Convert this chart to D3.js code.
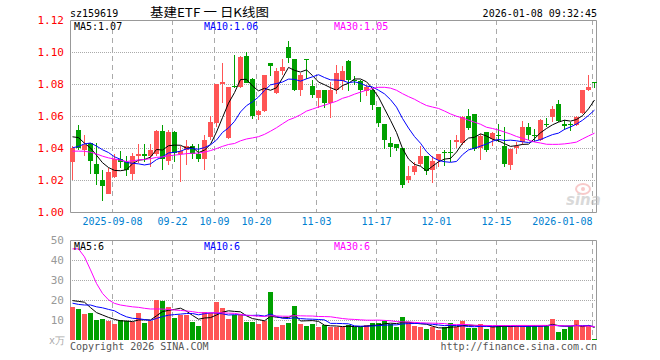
<!DOCTYPE html>
<html>
<head>
<meta charset="utf-8">
<script src="https://cdn.jsdelivr.net/npm/d3@7"></script>
<style>
body { margin: 0; background: #fff; }
text { font-family: "DejaVu Sans Mono", monospace; font-size: 10px; }
</style>
</head>
<body>
<svg width="660" height="360"></svg>
<script>
// trading days shown on the chart
var dates = ["2025-08-28","2025-08-29","2025-09-01","2025-09-02","2025-09-03","2025-09-04","2025-09-05","2025-09-08","2025-09-09","2025-09-10",
  "2025-09-11","2025-09-12","2025-09-15","2025-09-16","2025-09-17","2025-09-18","2025-09-19","2025-09-22","2025-09-23","2025-09-24",
  "2025-09-25","2025-09-26","2025-09-29","2025-09-30","2025-10-09","2025-10-10","2025-10-13","2025-10-14","2025-10-15","2025-10-16",
  "2025-10-17","2025-10-20","2025-10-21","2025-10-22","2025-10-23","2025-10-24","2025-10-27","2025-10-28","2025-10-29","2025-10-30",
  "2025-10-31","2025-11-03","2025-11-04","2025-11-05","2025-11-06","2025-11-07","2025-11-10","2025-11-11","2025-11-12","2025-11-13",
  "2025-11-14","2025-11-17","2025-11-18","2025-11-19","2025-11-20","2025-11-21","2025-11-24","2025-11-25","2025-11-26","2025-11-27",
  "2025-11-28","2025-12-01","2025-12-02","2025-12-03","2025-12-04","2025-12-05","2025-12-08","2025-12-09","2025-12-10","2025-12-11",
  "2025-12-12","2025-12-15","2025-12-16","2025-12-17","2025-12-18","2025-12-19","2025-12-22","2025-12-23","2025-12-24","2025-12-25",
  "2025-12-26","2025-12-29","2025-12-30","2025-12-31","2026-01-05","2026-01-06","2026-01-07","2026-01-08"];

var open = [1.031,1.0515,1.039,1.043,1.030,1.020,1.0115,1.022,1.033,1.031,
  1.0235,1.035,1.0365,1.035,1.036,1.0505,1.032,1.050,1.036,1.0385,
  1.0415,1.036,1.033,1.047,1.0555,1.080,1.046,1.0785,1.078,1.0977,
  1.0831,1.0608,1.0629,1.0933,1.0744,1.0879,1.1029,1.0958,1.0765,1.0956,
  1.0785,1.0712,1.076,1.0681,1.0765,1.0817,1.0942,1.0827,1.0817,1.0754,
  1.0765,1.0656,1.0552,1.0431,1.0427,1.040,1.0198,1.0248,1.0302,1.0348,
  1.0265,1.0323,1.0373,1.0375,1.0435,1.0431,1.0602,1.0615,1.040,1.0498,
  1.0456,1.0479,1.0415,1.0296,1.040,1.0435,1.0531,1.0479,1.0452,1.0548,
  1.0594,1.0677,1.0552,1.0552,1.0546,1.0619,1.0765,1.0813];

var high = [1.041,1.0546,1.048,1.043,1.043,1.026,1.0275,1.0365,1.038,1.035,
  1.037,1.0425,1.0425,1.0425,1.0515,1.0545,1.0515,1.0505,1.041,1.045,
  1.0425,1.0425,1.048,1.060,1.080,1.093,1.078,1.0983,1.0977,1.0998,
  1.0835,1.064,1.0858,1.0933,1.090,1.0958,1.1067,1.0958,1.087,1.0958,
  1.0827,1.0765,1.0765,1.0815,1.092,1.091,1.0952,1.0848,1.0827,1.0796,
  1.0775,1.0656,1.0552,1.047,1.0427,1.040,1.0285,1.0315,1.0415,1.0348,
  1.035,1.0365,1.0385,1.045,1.048,1.060,1.0644,1.0615,1.049,1.050,
  1.050,1.055,1.053,1.0394,1.044,1.057,1.0555,1.052,1.058,1.059,
  1.0665,1.070,1.0575,1.056,1.060,1.0765,1.0855,1.0813];

var low = [1.0198,1.039,1.035,1.024,1.017,1.007,1.011,1.021,1.0275,1.0225,
  1.020,1.0305,1.031,1.028,1.035,1.026,1.0295,1.031,1.019,1.0295,
  1.033,1.031,1.026,1.045,1.053,1.068,1.0455,1.0775,1.0775,1.0806,
  1.058,1.0575,1.0625,1.0848,1.074,1.0858,1.0931,1.0754,1.0723,1.0831,
  1.0713,1.065,1.065,1.059,1.0735,1.0765,1.0754,1.0796,1.069,1.0723,
  1.064,1.0531,1.0394,1.0344,1.038,1.015,1.018,1.023,1.029,1.023,
  1.018,1.028,1.029,1.0315,1.040,1.042,1.051,1.038,1.0325,1.0375,
  1.0415,1.044,1.028,1.0265,1.0365,1.042,1.045,1.044,1.0445,1.053,
  1.0565,1.056,1.0515,1.0505,1.0535,1.0615,1.0755,1.0775];

var close = [1.040,1.040,1.042,1.032,1.0235,1.0165,1.025,1.033,1.031,1.0265,
  1.035,1.0365,1.035,1.0385,1.0505,1.033,1.050,1.037,1.038,1.0415,
  1.036,1.033,1.045,1.056,1.080,1.081,1.078,1.078,1.097,1.0806,
  1.0602,1.0629,1.0858,1.091,1.0883,1.0906,1.0962,1.0765,1.0858,1.095,
  1.0729,1.076,1.0681,1.0765,1.0869,1.0879,1.0827,1.0817,1.0765,1.0781,
  1.0671,1.0556,1.0452,1.0406,1.040,1.0171,1.0227,1.0285,1.0348,1.0254,
  1.0317,1.0365,1.0369,1.037,1.0452,1.0594,1.0525,1.0394,1.0477,1.0385,
  1.0494,1.0475,1.0302,1.0394,1.041,1.0531,1.0483,1.0475,1.0577,1.0544,
  1.0646,1.0567,1.0535,1.0548,1.0594,1.0765,1.0781,1.0812];

// volume, x万
var volume = [16.5,15.5,13,13.5,10,10.5,9.5,8,10,9.5,
  9,13.5,8.5,9.5,20,19.5,16.5,11,12.5,12.5,
  9,7,14,13.5,19,16,10.5,12.5,12.5,9,
  9,8,9.5,24,6.5,7.5,8.5,17,8,7,
  8,6.5,7.5,6.5,6.5,6.5,7.5,6.5,6.5,7.5,
  8.5,8.5,9.5,8,6.5,11.5,9,7,6.5,5.5,
  6.5,5,6.5,8.5,6.5,9.5,6,6,8,5.5,
  7,7,7,7,7,7,7,7,7,7.5,
  10.5,4,5.5,7,10,7,7,0.5];

// sessions before the first visible day (off chart), estimated from where the MA lines start
var priorClose = [1.040,1.044,1.050,1.056,1.058,1.057,1.055,1.053,1.0515,
  1.020,1.022,1.024,1.025,1.026,1.025,1.027,1.026,1.025,1.027,1.0285,
  1.031,1.026,1.027,1.0425,1.0395,1.0425,1.0595,1.047,1.046];
var priorVolume = [16,133,208,214,160,105,62,34,
  24,22,21,23,20,19,22,21,20,19,20,20,
  21.5,16,13.5,19,15.5,17.5,15,27,22.5];

var tickDates = ["2025-09-08","2025-09-22","2025-10-09","2025-10-20","2025-11-03","2025-11-17","2025-12-01","2025-12-15","2026-01-08"];
var tickLabels = ["2025-09-08","09-22","10-09","10-20","11-03","11-17","12-01","12-15","2026-01-08"];
var priceTicks = [1.00, 1.02, 1.04, 1.06, 1.08, 1.10, 1.12];
var volTicks = [10, 20, 30, 40, 50];
var maDays = [5, 10, 30];
var maColors = ["#000", "#0000ff", "#ff00ff"];

var red = "#ff5555", green = "#00a000", gridColor = "#aaa", frameColor = "#999";

function movingAvg(prior, values, n) {
  var all = prior.concat(values);
  return values.map(function (v, i) {
    var end = prior.length + i + 1;
    return d3.mean(all.slice(end - n, end));
  });
}

var svg = d3.select("svg");
var left = 70, right = 597;

var x = d3.scaleBand().domain(dates).range([70, 598]);
var yP = d3.scaleLinear().domain([1.00, 1.12]).range([212, 20]);
var yV = d3.scaleLinear().domain([0, 50]).range([340, 240]);

var up = function (i) { return close[i] >= open[i]; };
var colorOf = function (i) { return up(i) ? red : green; };

// header
svg.append("text").attr("x", 70).attr("y", 17).text("sz159619");
svg.append("text").attr("x", 150).attr("y", 17)
  .style("font-family", "'Noto Sans CJK SC', sans-serif").style("font-size", "12px")
  .attr("textLength", 119).attr("lengthAdjust", "spacingAndGlyphs")
  .text("基建ETF 一 日K线图");
svg.append("text").attr("x", 597).attr("y", 17).attr("text-anchor", "end").text("2026-01-08 09:32:45");

// grids
function drawGrid(g, yScale, ticks, top, bottom) {
  g.selectAll("line.h").data(ticks).enter().append("line").attr("class", "h")
    .attr("x1", left).attr("x2", right)
    .attr("y1", function (d) { return Math.round(yScale(d)) + 0.5; })
    .attr("y2", function (d) { return Math.round(yScale(d)) + 0.5; })
    .attr("stroke", gridColor).attr("stroke-dasharray", "1,1");
  g.selectAll("line.v").data(tickDates).enter().append("line").attr("class", "v")
    .attr("x1", function (d) { return x(d) + 0.5; })
    .attr("x2", function (d) { return x(d) + 0.5; })
    .attr("y1", top).attr("y2", bottom)
    .attr("stroke", gridColor).attr("stroke-dasharray", "5,4");
}
drawGrid(svg.append("g"), yP, [1.02, 1.04, 1.06, 1.08, 1.10], 20, 212);
drawGrid(svg.append("g"), yV, [10, 20, 30, 40], 240, 340);

// frames
svg.append("path").attr("d", "M70.5,212.5V20.5H596.5V212.5H70.5")
  .attr("fill", "none").attr("stroke", frameColor);
svg.append("path").attr("d", "M70.5,340V240.5H596.5V340")
  .attr("fill", "none").attr("stroke", frameColor);

// sina watermark
var wm = svg.append("g").attr("opacity", 0.55);
wm.append("ellipse").attr("cx", 583).attr("cy", 189).attr("rx", 7).attr("ry", 5)
  .attr("fill", "none").attr("stroke", "#f3a0a0").attr("stroke-width", 2);
wm.append("circle").attr("cx", 583).attr("cy", 189).attr("r", 2).attr("fill", "#f3a0a0");
wm.append("text").attr("x", 566).attr("y", 205)
  .style("font-family", "'DejaVu Sans', sans-serif").style("font-size", "15px")
  .style("font-style", "italic").style("font-weight", "bold")
  .attr("fill", "#bbb").text("sina");

// candles
var idx = d3.range(dates.length);
var candles = svg.append("g").attr("shape-rendering", "crispEdges");
candles.selectAll("line").data(idx).enter().append("line")
  .attr("x1", function (i) { return x(dates[i]) + 2.5; })
  .attr("x2", function (i) { return x(dates[i]) + 2.5; })
  .attr("y1", function (i) { return yP(high[i]); })
  .attr("y2", function (i) { return yP(low[i]); })
  .attr("stroke", colorOf);
candles.selectAll("rect").data(idx).enter().append("rect")
  .attr("x", function (i) { return x(dates[i]); })
  .attr("width", 5)
  .attr("y", function (i) { return yP(Math.max(open[i], close[i])); })
  .attr("height", function (i) { return Math.max(1, Math.abs(yP(open[i]) - yP(close[i]))); })
  .attr("fill", colorOf);

// volume bars
svg.append("g").attr("shape-rendering", "crispEdges")
  .selectAll("rect").data(idx).enter().append("rect")
  .attr("x", function (i) { return x(dates[i]); })
  .attr("width", 5)
  .attr("y", function (i) { return yV(volume[i]); })
  .attr("height", function (i) { return yV(0) - yV(volume[i]); })
  .attr("fill", colorOf);

// moving averages
var priceMA = maDays.map(function (n) { return movingAvg(priorClose, close, n); });
var volMA = maDays.map(function (n) { return movingAvg(priorVolume, volume, n); });

function drawLines(series, yScale) {
  var line = d3.line()
    .x(function (d, i) { return x(dates[i]) + 2.5; })
    .y(function (d) { return yScale(d); });
  svg.append("g").selectAll("path").data(series).enter().append("path")
    .attr("d", line).attr("fill", "none")
    .attr("stroke", function (d, k) { return maColors[k]; }).attr("stroke-width", 1);
}
drawLines(priceMA, yP);
drawLines(volMA, yV);

// legends
var legendX = [74, 204, 334];
var f2 = d3.format(".2f");
svg.selectAll("text.lp").data(maDays).enter().append("text").attr("class", "lp")
  .attr("x", function (d, k) { return legendX[k]; }).attr("y", 30)
  .attr("fill", function (d, k) { return maColors[k]; })
  .text(function (d, k) { return "MA" + d + ":" + f2(priceMA[k][priceMA[k].length - 1]); });
svg.selectAll("text.lv").data(maDays).enter().append("text").attr("class", "lv")
  .attr("x", function (d, k) { return legendX[k]; }).attr("y", 250)
  .attr("fill", function (d, k) { return maColors[k]; })
  .text(function (d, k) { return "MA" + d + ":" + Math.floor(volMA[k][volMA[k].length - 1]); });

// axes
var yAxisP = d3.axisLeft(yP).tickValues(priceTicks).tickSize(0).tickPadding(6).tickFormat(d3.format(".2f"));
var gP = svg.append("g").attr("transform", "translate(70,0)").call(yAxisP);
gP.select(".domain").remove();
gP.selectAll("text").attr("fill", "#f00").style("font-family", null).style("font-size", "11px");
gP.attr("font-family", null).attr("font-size", null);

var yAxisV = d3.axisLeft(yV).tickValues(volTicks).tickSize(0).tickPadding(6);
var gV = svg.append("g").attr("transform", "translate(70,0)").call(yAxisV);
gV.select(".domain").remove();
gV.selectAll("text").attr("fill", "#999").style("font-size", "11px");
gV.attr("font-family", null).attr("font-size", null);

var xAxis = d3.axisBottom(x).tickValues(tickDates).tickSize(0).tickPadding(6)
  .tickFormat(function (d, i) { return tickLabels[i]; });
var gX = svg.append("g").attr("transform", "translate(0,212)").call(xAxis);
gX.select(".domain").remove();
gX.attr("font-family", null).attr("font-size", null);
gX.selectAll(".tick").attr("transform", function (d) { return "translate(" + (x(d) + 0.5) + ",0)"; });
gX.selectAll("text").attr("fill", "#0080d0")
  .attr("text-anchor", function (d, i) { return i === tickDates.length - 1 ? "end" : "middle"; });

// footer
svg.append("text").attr("x", 49).attr("y", 344).attr("fill", "#aaa").text("x万");
svg.append("text").attr("x", 70).attr("y", 350).attr("fill", "#555").text("Copyright 2026 SINA.COM");
svg.append("text").attr("x", 597).attr("y", 350).attr("text-anchor", "end").attr("fill", "#555").text("http://finance.sina.com.cn");
</script>
</body>
</html>
